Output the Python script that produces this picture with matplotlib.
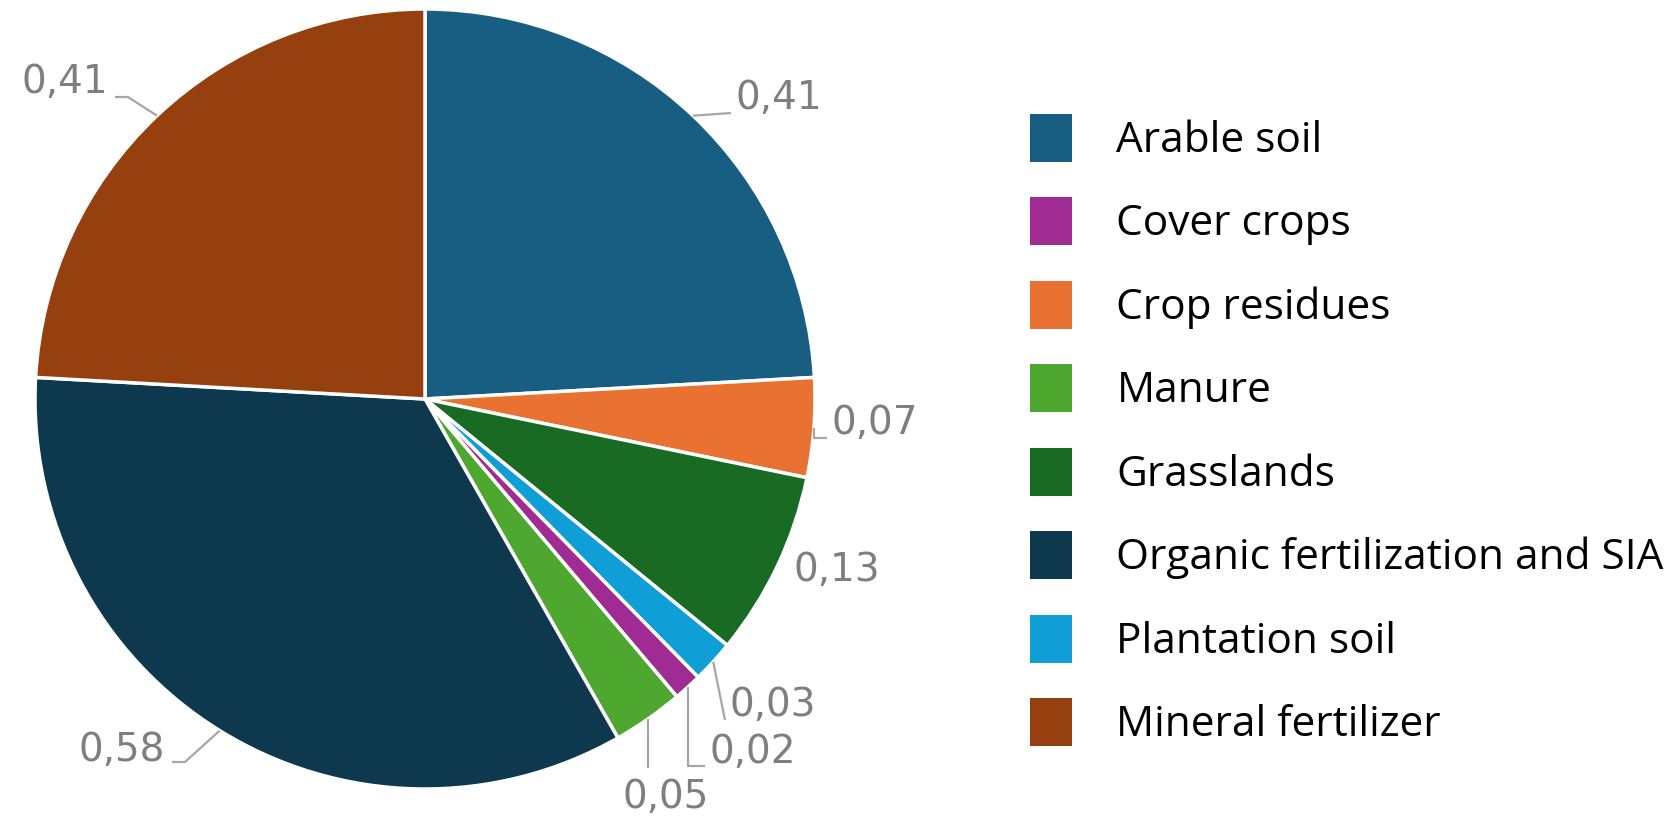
import numpy as np
import matplotlib
matplotlib.use("Agg")
from matplotlib import pyplot as plt
from matplotlib.patches import Patch

# slices clockwise from 12 o'clock
slices = ["Arable soil", "Crop residues", "Grasslands", "Plantation soil",
          "Cover crops", "Manure", "Organic fertilization and SIA", "Mineral fertilizer"]
values = [0.41, 0.07, 0.13, 0.03, 0.02, 0.05, 0.58, 0.41]
colors = {
    "Arable soil": "#175E82",
    "Cover crops": "#A02B93",
    "Crop residues": "#E97132",
    "Manure": "#4EA72E",
    "Grasslands": "#196B24",
    "Organic fertilization and SIA": "#0E384D",
    "Plantation soil": "#0F9ED5",
    "Mineral fertilizer": "#97400F",
}
legend_order = ["Arable soil", "Cover crops", "Crop residues", "Manure", "Grasslands",
                "Organic fertilization and SIA", "Plantation soil", "Mineral fertilizer"]

plt.rcParams['font.family'] = ['Open Sans', 'DejaVu Sans']

fig = plt.figure(figsize=(16.78, 8.24), dpi=100)
ax = fig.add_axes([0, 0, 1, 1])

cx, cy, R = 425, 425, 390
wedges, _ = ax.pie(values, colors=[colors[s] for s in slices], startangle=90,
                   counterclock=False, radius=R, center=(cx, cy),
                   wedgeprops=dict(edgecolor="white", linewidth=2.5))
ax.set_xlim(0, 1678)
ax.set_ylim(0, 824)
ax.set_aspect("auto")
ax.axis("off")

# label placement: text anchor, alignment, leader bend points after the rim point
label_pos = {
    "Arable soil": ((735, 726), "left", [(731, 711)]),
    "Crop residues": ((832, 401), "left", [(815, 386), (827, 386)]),
    "Grasslands": ((793, 254), "left", []),
    "Plantation soil": ((729, 119), "left", [(725, 104)]),
    "Cover crops": ((709, 72), "left", [(692, 58), (705, 58)]),
    "Manure": ((666, 27), "center", [(650, 56)]),
    "Organic fertilization and SIA": ((165, 74), "right", [(185, 62), (172, 62)]),
    "Mineral fertilizer": ((108, 742), "right", [(128, 727), (115, 727)]),
}
grey = "#7F7F7F"
for w, name, v in zip(wedges, slices, values):
    mid = np.deg2rad((w.theta1 + w.theta2) / 2)
    rim = (cx + R * np.cos(mid), cy + R * np.sin(mid))
    (tx, ty), ha, bends = label_pos[name]
    if bends:
        pts = [rim] + bends
        if name in ("Cover crops", "Manure", "Crop residues"):
            pts[1] = (rim[0], pts[1][1])
            if len(pts) > 2:
                pts[2] = (pts[2][0], pts[1][1])
        xs, ys = zip(*pts)
        ax.plot(xs, ys, color="#A6A6A6", lw=1.6, solid_capstyle="butt")
    ax.text(tx, ty, f"{v:.2f}".replace(".", ","), ha=ha, va="center",
            fontsize=28, color=grey, family="DejaVu Sans")

handles = [Patch(facecolor=colors[n], edgecolor="none") for n in legend_order]
ax.legend(handles, legend_order, loc="upper left", bbox_to_anchor=(1030, 710),
          bbox_transform=ax.transData, frameon=False, fontsize=30.5, handlelength=1.0,
          handleheight=1.35, handletextpad=1.04, labelspacing=0.84, borderpad=0,
          borderaxespad=0)

fig.savefig("out.png", dpi=100)
